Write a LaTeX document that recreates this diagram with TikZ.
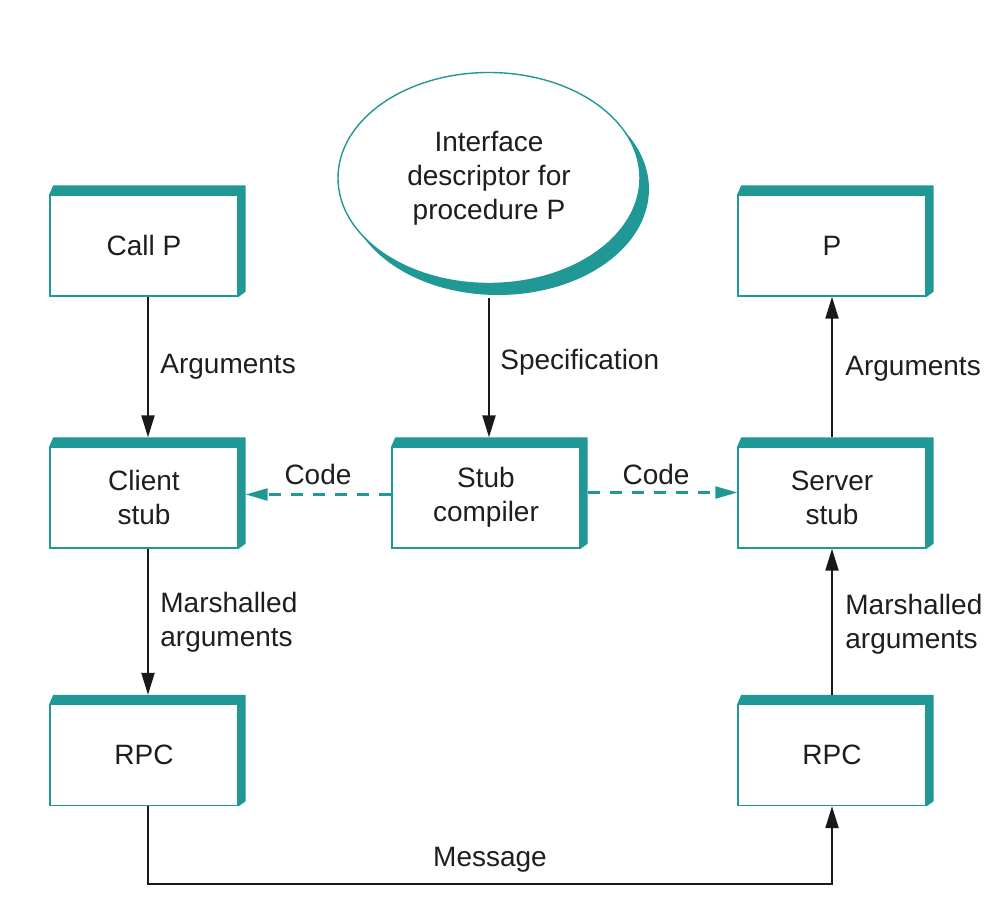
\documentclass[tikz,border=0pt]{standalone}
\usepackage{fontspec}
\setmainfont{Liberation Sans}
\usetikzlibrary{shapes.geometric,arrows.meta}
\definecolor{teal1}{RGB}{31,152,150}
\definecolor{txt}{RGB}{30,30,30}
\begin{document}
\begin{tikzpicture}[x=0.5pt,y=-0.5pt,
  font=\fontsize{14}{17}\selectfont, text=txt,
  tbox/.style={draw=teal1, line width=0.7pt, fill=white, minimum width=94pt, minimum height=50.5pt, inner sep=0pt, align=center},
  lbl/.style={anchor=west, align=left, inner sep=0pt},
  arr/.style={draw=black!90, line width=1.1pt, -{Triangle[length=11pt,width=6.5pt]}},
  darr/.style={draw=teal1, line width=1.2pt, dash pattern=on 6pt off 5pt, -{Triangle[length=11pt,width=6pt]}}]
\useasboundingbox (0,0) rectangle (998,906);
% ellipse with shadow
\fill[teal1] (498,189) ellipse [x radius=151, y radius=106];
\node[ellipse, draw=teal1, line width=0.7pt, fill=white, minimum width=151pt, minimum height=105.5pt, inner sep=0pt, align=center] (ell) at (489,178) {Interface\\descriptor for\\procedure P};
% boxes
\node[tbox] (callp) at (144,245.5) {Call P};
\node[tbox] (cstub) at (144,497.5) {Client\\stub};
\node[tbox] (rpc1)  at (144,755) {RPC};
\node[tbox] (comp)  at (486,497.5) {Stub\\compiler};
\node[tbox] (p)     at (832,245.5) {P};
\node[tbox] (sstub) at (832,497.5) {Server\\stub};
\node[tbox] (rpc2)  at (832,755) {RPC};
% shadows
\foreach \n in {callp,cstub,rpc1,comp,p,sstub,rpc2}{
  \fill[teal1] (\n.north west) -- ++(2pt,4.5pt) -- ([xshift=3.5pt,yshift=4.5pt]\n.north east)
     -- ([xshift=3.5pt,yshift=2.5pt]\n.south east) -- (\n.south east) -- (\n.north east) -- cycle;
}
% connectors
\draw[arr] ([xshift=2pt]callp.south) -- ([xshift=2pt,yshift=4.5pt]cstub.north);
\draw[arr] ([xshift=2pt]cstub.south) -- ([xshift=2pt,yshift=4.5pt]rpc1.north);
\draw[arr] ([yshift=-7pt]ell.south) -- ([xshift=1.5pt,yshift=4.5pt]comp.north);
\draw[arr] ([xshift=0pt,yshift=4.5pt]sstub.north) -- (p.south);
\draw[arr] ([xshift=0pt,yshift=4.5pt]rpc2.north) -- (sstub.south);
\coordinate (mb) at (148,884);
\draw[arr] ([xshift=2pt]rpc1.south) |- (mb) -| (rpc2.south);
\draw[darr] ([yshift=1.5pt]comp.west) -- ([xshift=3.5pt,yshift=1.5pt]cstub.east);
\draw[darr] ([xshift=3.5pt,yshift=2.5pt]comp.east) -- ([yshift=2.5pt]sstub.west);
% labels
\node[lbl] (l1) at (160,367) {Arguments};
\node[lbl] (l2) at (500,362) {Specification};
\node[lbl] (l3) at (845,369) {Arguments};
\node[lbl] (l4) at (160,622) {Marshalled\\arguments};
\node[lbl] (l5) at (845,624) {Marshalled\\arguments};
\node (l6) at (318,474) {Code};
\node (l7) at (656,474) {Code};
\node (l8) at (490,860) {Message};
\end{tikzpicture}
\end{document}
